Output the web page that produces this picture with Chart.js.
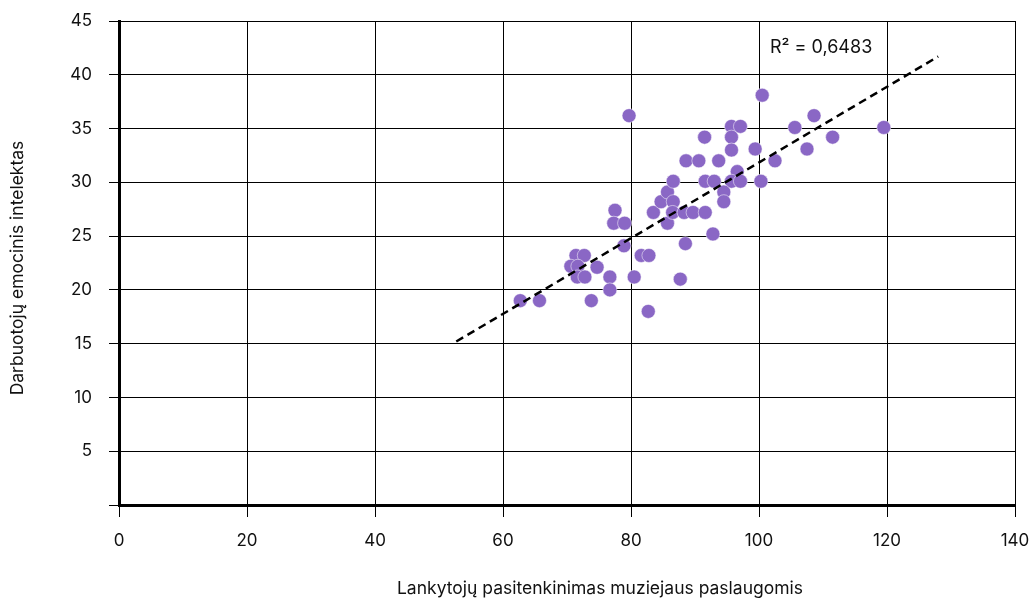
<!DOCTYPE html>
<html>
<head>
<meta charset="utf-8">
<script src="https://cdn.jsdelivr.net/npm/chart.js@4.4.1/dist/chart.umd.min.js"></script>
<style>
  html, body { margin: 0; padding: 0; background: #fff; }
  #wrap { width: 1032px; height: 599px; }
</style>
</head>
<body>
<div id="wrap"><canvas id="scatter"></canvas></div>
<script>
// visitor satisfaction (x) vs. employee emotional intelligence (y)
const satisfaction = [
  62.7, 65.7, 71.4, 72.7, 70.6, 71.7, 74.7, 71.6, 72.8, 76.7,
  76.7, 73.8, 78.9, 80.5, 81.6, 82.8, 82.7, 77.5, 77.3, 79.0,
  87.7, 88.5, 92.8, 85.7, 83.5, 84.7, 85.7, 86.6, 86.6, 86.5,
  88.3, 89.7, 91.6, 91.6, 93.0, 88.6, 90.6, 79.7, 91.5, 95.7,
  97.1, 95.7, 95.7, 99.4, 93.7, 96.6, 95.7, 97.1, 100.3, 94.5,
  94.5, 100.5, 105.6, 108.6, 119.5, 111.5, 107.5, 102.5
];
const emotionalIQ = [
  19.0, 19.0, 23.2, 23.2, 22.2, 22.2, 22.1, 21.2, 21.2, 21.2,
  20.0, 19.0, 24.1, 21.2, 23.2, 23.2, 18.0, 27.4, 26.2, 26.2,
  21.0, 24.3, 25.2, 26.2, 27.2, 28.2, 29.1, 30.1, 28.2, 27.2,
  27.2, 27.2, 27.2, 30.1, 30.1, 32.0, 32.0, 36.2, 34.2, 35.2,
  35.2, 34.2, 33.0, 33.1, 32.0, 31.0, 30.1, 30.1, 30.1, 29.1,
  28.2, 38.1, 35.1, 36.2, 35.1, 34.2, 33.1, 32.0
];
// trend line ends
const trendX = [52.7, 128.0];
const trendY = [15.2, 41.7];
const xTicks = [0, 20, 40, 60, 80, 100, 120, 140];
const yTicks = [0, 5, 10, 15, 20, 25, 30, 35, 40, 45];
const r2Text = 'R\u00b2 = 0,6483';
const xTitle = 'Lankytojų pasitenkinimas muziejaus paslaugomis';
const yTitle = 'Darbuotojų emocinis intelektas';

const FONT = 'Inter';

const points = satisfaction.map((v, i) => ({ x: v, y: emotionalIQ[i] }));
const trend = trendX.map((v, i) => ({ x: v, y: trendY[i] }));

const textPlugin = {
  id: 'textPlugin',
  afterDraw(chart) {
    const ctx = chart.ctx;
    ctx.save();
    ctx.fillStyle = '#111';
    ctx.textBaseline = 'middle';
    ctx.font = '17.5px ' + FONT;
    ctx.textAlign = 'center';
    ctx.fillText(xTitle, 600, 589);
    ctx.save();
    ctx.translate(18, 268);
    ctx.rotate(-Math.PI / 2);
    ctx.fillText(yTitle, 0, 0);
    ctx.restore();
    ctx.font = '18px ' + FONT;
    ctx.textAlign = 'left';
    ctx.fillText(r2Text, 770, 48);
    ctx.restore();
  }
};

const scatter = document.querySelector('#scatter');
let chart = new Chart(scatter, {
  type: 'scatter',
  data: {
    datasets: [{
      type: 'line',
      data: trend,
      borderColor: '#000',
      borderWidth: 2.5,
      borderDash: [8, 5],
      pointRadius: 0,
      fill: false,
      order: 0
    }, {
      data: points,
      backgroundColor: '#8a67c5',
      borderColor: 'rgba(255,255,255,0.5)',
      borderWidth: 1,
      pointRadius: 7,
      order: 1
    }]
  },
  options: {
    responsive: true,
    maintainAspectRatio: false,
    animation: false,
    devicePixelRatio: 1,
    layout: { padding: { top: 21, right: 17, left: 0, bottom: 0 } },
    plugins: {
      legend: { display: false },
      tooltip: { enabled: false }
    },
    scales: {
      x: {
        type: 'linear',
        min: 0,
        max: 140,
        afterBuildTicks: s => { s.ticks = xTicks.map(v => ({ value: v })); },
        afterFit: s => { s.height = 94; s.paddingLeft = 0; s.paddingRight = 0; },
        ticks: { padding: 14, color: '#111', font: { family: FONT, size: 17 } },
        grid: { color: '#000', lineWidth: 1, tickLength: 12 },
        border: { color: '#000', width: 3 }
      },
      y: {
        min: 0,
        max: 45,
        afterBuildTicks: s => { s.ticks = yTicks.map(v => ({ value: v })); },
        afterFit: s => { s.width = 119; s.paddingTop = 0; s.paddingBottom = 0; },
        ticks: {
          padding: 17,
          color: '#111',
          font: { family: FONT, size: 17 },
          callback: v => v === 0 ? '' : v
        },
        grid: { color: '#000', lineWidth: 1, tickLength: 10 },
        border: { color: '#000', width: 3 }
      }
    }
  },
  plugins: [textPlugin]
});
</script>
</body>
</html>
